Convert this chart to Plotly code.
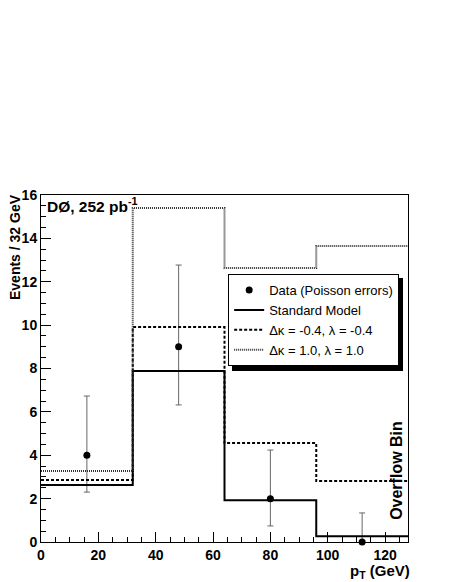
import plotly.graph_objects as go

# bin edges of the pT histogram (last bin is the overflow bin)
bin_edges = [0, 32, 64, 96, 128]
sm = [2.63, 7.88, 1.93, 0.27]
dk_m04 = [2.86, 9.91, 4.56, 2.81]
dk_p10 = [3.27, 15.4, 12.63, 13.65]

data_x = [16, 48, 80, 112]
data_y = [4, 9, 2, 0]
err_lo = [1.7, 2.68, 1.26, 0]
err_hi = [2.73, 3.77, 2.24, 1.34]

x_ticks = [0, 20, 40, 60, 80, 100, 120]
y_ticks = [0, 2, 4, 6, 8, 10, 12, 14, 16]

font = "Liberation Sans, Arial, sans-serif"


def step(vals):
    return vals + [vals[-1]]


fig = go.Figure()
fig.add_trace(
    go.Scatter(
        x=data_x,
        y=data_y,
        mode="markers",
        name="Data (Poisson errors)",
        marker=dict(color="black", size=7),
        error_y=dict(
            type="data",
            symmetric=False,
            array=err_hi,
            arrayminus=err_lo,
            color="#666666",
            thickness=1,
            width=3,
        ),
        cliponaxis=False,
    )
)
fig.add_trace(
    go.Scatter(
        x=bin_edges,
        y=step(sm),
        mode="lines",
        line_shape="hv",
        name="Standard Model",
        line=dict(color="black", width=2),
    )
)
fig.add_trace(
    go.Scatter(
        x=bin_edges,
        y=step(dk_m04),
        mode="lines",
        line_shape="hv",
        name="Δκ = -0.4, λ = -0.4",
        line=dict(color="black", width=2, dash="3px,2px"),
    )
)
fig.add_trace(
    go.Scatter(
        x=bin_edges,
        y=step(dk_p10),
        mode="lines",
        line_shape="hv",
        name="Δκ = 1.0, λ = 1.0",
        line=dict(color="#333333", width=2, dash="1px,1px"),
    )
)

# page has an 8px body margin, so the figure is a bit smaller than the window
fig.update_layout(
    width=442,
    height=574,
    margin=dict(l=33, r=42, t=187, b=40),
    plot_bgcolor="white",
    paper_bgcolor="white",
    font=dict(family=font, size=14, color="black"),
    showlegend=True,
    legend=dict(
        x=0.51,
        y=0.772,
        xanchor="left",
        yanchor="top",
        bgcolor="white",
        bordercolor="black",
        borderwidth=1,
        font=dict(size=13),
        tracegroupgap=0,
        itemwidth=30,
    ),
    xaxis=dict(
        range=[0, 128],
        tickvals=x_ticks,
        ticktext=["<b>%d</b>" % v for v in x_ticks],
        ticks="inside",
        ticklen=10,
        tickcolor="black",
        minor=dict(dtick=5, ticks="inside", ticklen=5, tickcolor="black"),
        showline=True,
        linecolor="black",
        linewidth=1,
        mirror=True,
        showgrid=False,
        zeroline=False,
        tickfont=dict(size=14),
    ),
    yaxis=dict(
        range=[0, 16],
        tickvals=y_ticks,
        ticktext=["<b>%d</b>" % v for v in y_ticks],
        ticks="inside",
        ticklen=10,
        tickcolor="black",
        minor=dict(dtick=0.5, ticks="inside", ticklen=5, tickcolor="black"),
        showline=True,
        linecolor="black",
        linewidth=1,
        mirror=True,
        showgrid=False,
        zeroline=False,
        tickfont=dict(size=14),
    ),
)

# drop shadow behind the legend box (ROOT style)
fig.add_shape(
    type="rect",
    xref="paper", yref="paper",
    x0=0.5204, x1=0.9864, y0=0.4928, y1=0.7608,
    fillcolor="black",
    line=dict(width=0),
    layer="above",
)

fig.add_annotation(
    text="<b>Events / 32 GeV</b>",
    xref="paper", yref="paper",
    x=0, y=1, xanchor="right", yanchor="top",
    xshift=-17, yshift=2, textangle=-90, showarrow=False,
    borderpad=0,
    font=dict(size=14),
)
fig.add_annotation(
    text="<b>p<sub>T</sub> (GeV)</b>",
    xref="paper", yref="paper",
    x=1, y=0, xanchor="right", yanchor="top",
    xshift=4, yshift=-18, showarrow=False,
    font=dict(size=15),
)
fig.add_annotation(
    text="<b>DØ, 252 pb<sup>-1</sup></b>",
    xref="paper", yref="paper",
    x=0, y=1, xanchor="left", yanchor="top",
    xshift=4, yshift=2, showarrow=False,
    font=dict(size=15.5),
)
fig.add_annotation(
    text="<b>Overflow Bin</b>",
    xref="paper", yref="paper",
    x=1, y=0.058, xanchor="right", yanchor="bottom",
    xshift=-1, textangle=-90, showarrow=False,
    font=dict(size=16),
)

fig.write_html("out.html")
